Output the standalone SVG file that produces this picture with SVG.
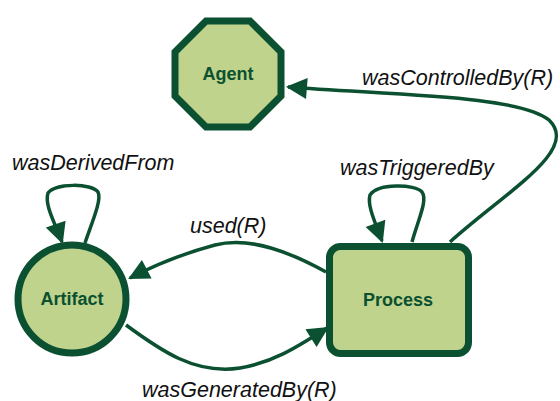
<svg xmlns="http://www.w3.org/2000/svg" width="560" height="401" viewBox="0 0 560 401">
<style>
.node{fill:#bfd38c;stroke:#0b5030;stroke-width:7}
.nl{font-family:"Liberation Sans",Arial,sans-serif;font-weight:bold;font-size:18px;fill:#0b5030;text-anchor:middle}
.el{font-family:"Liberation Sans",Arial,sans-serif;font-style:italic;font-size:21.5px;fill:#111}
.edge{fill:none;stroke:#0b5030;stroke-width:3.5}
</style>
<defs>
<marker id="ah" viewBox="0 0 10 10" refX="9" refY="5" markerWidth="6.5" markerHeight="6" markerUnits="strokeWidth" orient="auto">
<path d="M0,0 L10,5 L0,10 z" fill="#0b5030"/>
</marker>
</defs>
<rect width="560" height="401" fill="#fff"/>
<g id="edges">
<path class="edge" marker-end="url(#ah)" d="M450,242 C508,190 580,150 549,120 C518,95 390,95 288,87"/>
<path class="edge" marker-end="url(#ah)" d="M412,242 C418,220 428,200 422,192 C415,184 378,183 370,195 C367,205 375,222 382,241"/>
<path class="edge" marker-end="url(#ah)" d="M85,243 C92,222 102,200 98,192 C92,183 55,183 48,193 C44,205 56,225 62,242"/>
<path class="edge" marker-end="url(#ah)" d="M326,272 C290,252 250,236 215,245 C185,253 155,265 130,278"/>
<path class="edge" marker-end="url(#ah)" d="M126,325 C160,350 195,375 240,368 C275,362 300,345 327,328"/>
</g>
<g id="agent">
<polygon class="node" points="206,21 250,21 281,52 281,96 250,127 206,127 175,96 175,52"/>
<text class="nl" x="228" y="80">Agent</text>
</g>
<g id="artifact">
<circle class="node" cx="72" cy="299" r="54"/>
<text class="nl" x="72" y="305">Artifact</text>
</g>
<g id="process">
<rect class="node" x="329.5" y="246.5" width="139" height="107" rx="11"/>
<text class="nl" x="398" y="306">Process</text>
</g>
<g id="labels">
<text class="el" x="362" y="85">wasControlledBy(R)</text>
<text class="el" x="340" y="175">wasTriggeredBy</text>
<text class="el" x="12" y="170">wasDerivedFrom</text>
<text class="el" x="190" y="233">used(R)</text>
<text class="el" x="142" y="397">wasGeneratedBy(R)</text>
</g>
</svg>
